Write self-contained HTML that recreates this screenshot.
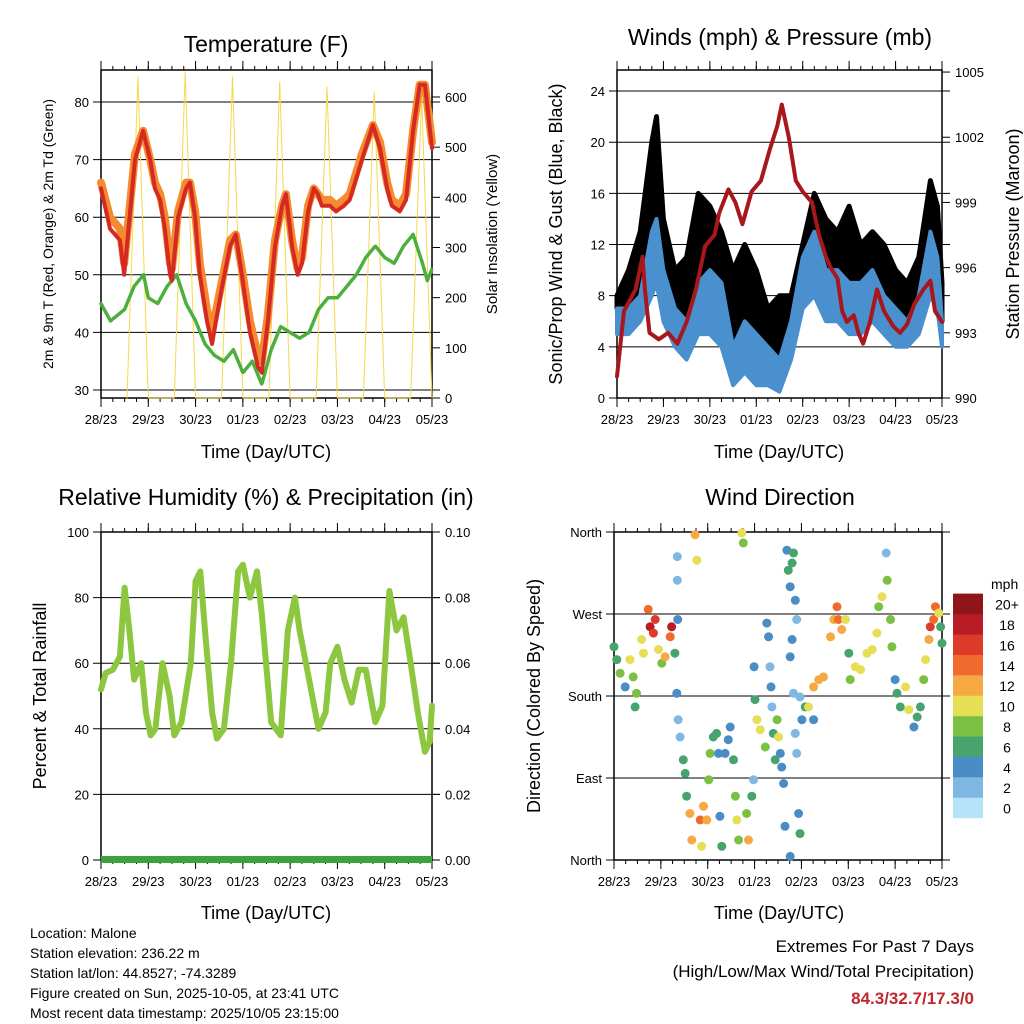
<!DOCTYPE html>
<html><head><meta charset="utf-8">
<style>
html,body{margin:0;padding:0;background:#fff;}
svg{display:block;font-family:"Liberation Sans",sans-serif;}
</style></head>
<body>
<svg id="fig" width="1024" height="1024" viewBox="0 0 1024 1024" xmlns="http://www.w3.org/2000/svg">
<rect x="0" y="0" width="1024" height="1024" fill="#fff"/>
<text x="266" y="52" font-size="23" text-anchor="middle">Temperature (F)</text>
<text x="780" y="45" font-size="23" text-anchor="middle">Winds (mph) &amp; Pressure (mb)</text>
<text x="266" y="505" font-size="23" text-anchor="middle">Relative Humidity (%) &amp; Precipitation (in)</text>
<text x="780" y="505" font-size="23" text-anchor="middle">Wind Direction</text>

<text transform="translate(53,234) rotate(-90)" font-size="14" text-anchor="middle">2m &amp; 9m T (Red, Orange) &amp; 2m Td (Green)</text>
<text transform="translate(497,234) rotate(-90)" font-size="15" text-anchor="middle">Solar Insolation (Yellow)</text>
<text transform="translate(562,234) rotate(-90)" font-size="18" text-anchor="middle">Sonic/Prop Wind &amp; Gust (Blue, Black)</text>
<text transform="translate(1019,234) rotate(-90)" font-size="18" text-anchor="middle">Station Pressure (Maroon)</text>
<text transform="translate(46,696) rotate(-90)" font-size="18" text-anchor="middle">Percent &amp; Total Rainfall</text>
<text transform="translate(540,696) rotate(-90)" font-size="18" text-anchor="middle">Direction (Colored By Speed)</text>

<text x="266" y="458" font-size="18" text-anchor="middle">Time (Day/UTC)</text>
<text x="779" y="458" font-size="18" text-anchor="middle">Time (Day/UTC)</text>
<text x="266" y="919" font-size="18" text-anchor="middle">Time (Day/UTC)</text>
<text x="779" y="919" font-size="18" text-anchor="middle">Time (Day/UTC)</text>

<g font-size="14">
<text x="30" y="938">Location: Malone</text>
<text x="30" y="958">Station elevation: 236.22 m</text>
<text x="30" y="978">Station lat/lon: 44.8527; -74.3289</text>
<text x="30" y="998">Figure created on Sun, 2025-10-05, at 23:41 UTC</text>
<text x="30" y="1018">Most recent data timestamp: 2025/10/05 23:15:00</text>
</g>
<g text-anchor="end">
<text x="974" y="952" font-size="17">Extremes For Past 7 Days</text>
<text x="974" y="977" font-size="17">(High/Low/Max Wind/Total Precipitation)</text>
<text x="974" y="1004" font-size="17" font-weight="bold" fill="#c0282d">84.3/32.7/17.3/0</text>
</g>
<g id="plots"></g>
</svg>
<script>
const dayLabels = ["28/23","29/23","30/23","01/23","02/23","03/23","04/23","05/23"];
// Temperature panel
const tTimes = [0,.19,.40,.49,.72,.89,1.04,1.14,1.25,1.35,1.46,1.50,1.63,1.80,1.88,1.99,2.09,2.24,2.35,2.39,2.56,2.73,2.85,2.98,3.15,3.32,3.40,3.53,3.68,3.83,3.91,4.04,4.16,4.25,4.38,4.50,4.59,4.67,4.84,4.97,5.14,5.26,5.52,5.75,5.90,6.05,6.15,6.32,6.45,6.60,6.74,6.85,7.0];
const temp2m = [65,58,56,50,70,75,70,65,63,58,50,49,60,65,66,60,50,42,38,40,48,55,57,50,40,34,33,42,55,62,64,55,50,52,61,65,64,62,62,61,62,63,70,76,72,65,62,61,63,75,83,83,72];
const temp9m = [66,60,58,52,71,75,70,66,64,60,52,51,61,66,66,61,52,44,40,42,49,56,57,51,42,36,35,43,56,62,64,56,51,53,62,65,64,63,63,62,63,64,71,76,73,66,63,62,64,75,83,83,73];
const tdTimes = [0,.2,.5,.7,.9,1.0,1.2,1.4,1.6,1.8,2.0,2.2,2.4,2.6,2.8,3.0,3.2,3.4,3.6,3.8,4.0,4.2,4.4,4.6,4.8,5.0,5.2,5.4,5.6,5.8,6.0,6.2,6.4,6.6,6.8,6.9,7.0];
const dewpoint = [45,42,44,48,50,46,45,48,50,45,42,38,36,35,37,33,35,31,37,41,40,39,40,44,46,46,48,50,53,55,53,52,55,57,52,49,51];
const solarTimes = [0.55,0.78,1.0,1.55,1.78,2.0,2.55,2.78,3.0,3.55,3.78,4.0,4.55,4.78,5.0,5.55,5.78,6.0,6.55,6.78,7.0];
const solarVals = [0,640,0,0,650,0,0,640,0,0,630,0,0,620,0,0,610,0,0,600,0];
const tempTicks = [30,40,50,60,70,80];
const solarTicks = [0,100,200,300,400,500,600];
// Wind panel
const wTimes = [0,.25,.5,.75,.85,1.0,1.25,1.5,1.75,2.0,2.25,2.5,2.75,3.0,3.25,3.5,3.75,4.0,4.25,4.5,4.75,5.0,5.25,5.5,5.75,6.0,6.25,6.5,6.75,6.9,7.0];
const gust = [8,10,13,20,22,14,10,11,16,15,13,10,12,10,7,8,8,12,16,14,13,15,12,13,12,10,9,11,17,15,9];
const wind = [7,7,8,13,14,10,7,6,9,10,9,4,6,5,4,3,6,11,13,10,10,9,9,10,8,7,6,8,13,11,6];
const windLow = [5,5,6,8,9,6,4,3,5,5,4,1,2,1,1,0.5,3,7,8,6,6,5,5,6,5,4,4,5,8,7,4];
const pTimes = [0,.15,.4,.55,.6,.7,.9,1.1,1.3,1.5,1.7,1.9,2.1,2.2,2.4,2.55,2.7,2.9,3.1,3.3,3.45,3.55,3.7,3.85,4.0,4.2,4.35,4.5,4.6,4.75,4.85,4.95,5.1,5.2,5.3,5.45,5.6,5.75,5.95,6.1,6.25,6.4,6.6,6.75,6.85,7.0];
const pressure = [991,994,995,996.5,995,993,992.7,993,992.5,993.5,995,997,997.5,998.5,999.6,999,998,999.5,1000,1001.5,1002.5,1003.5,1002,1000,999.5,999,997.5,996.5,996,995.5,994,993.5,993.8,993,992.5,993.5,995,994,993.3,993,993.4,994.3,995,995.4,994,993.5];
const windTicks = [0,4,8,12,16,20,24];
const pressTicks = [990,993,996,999,1002,1005];
// RH panel
const rhTimes = [0,.1,.25,.4,.5,.6,.7,.85,.95,1.05,1.15,1.3,1.45,1.55,1.7,1.9,2.0,2.1,2.2,2.35,2.45,2.6,2.75,2.9,3.0,3.15,3.3,3.4,3.6,3.8,3.95,4.1,4.2,4.4,4.6,4.75,4.85,5.0,5.15,5.3,5.45,5.6,5.8,5.95,6.1,6.25,6.4,6.55,6.7,6.85,6.95,7.0];
const rh = [52,57,58,62,83,70,55,60,45,38,40,60,50,38,42,60,85,88,70,45,37,40,60,88,90,80,88,75,42,38,70,80,70,55,40,45,60,65,55,48,58,58,42,47,82,70,74,60,45,33,36,47];
const rhTicks = [0,20,40,60,80,100];
const precipTicks = ["0.00","0.02","0.04","0.06","0.08","0.10"];
// Wind direction panel
const dirTimes = [0,.06,.13,.24,.34,.41,.45,.48,.59,.63,.73,.77,.84,.88,.95,1.02,1.09,1.20,1.23,1.30,1.35,1.35,1.36,1.34,1.37,1.41,1.48,1.52,1.55,1.62,1.66,1.73,1.77,1.84,1.87,1.91,1.98,2.02,2.05,2.12,2.19,2.23,2.26,2.30,2.37,2.44,2.48,2.55,2.59,2.62,2.66,2.73,2.76,2.83,2.87,2.94,2.98,2.99,3.01,3.05,3.12,3.23,3.26,3.30,3.33,3.35,3.37,3.40,3.44,3.48,3.51,3.55,3.58,3.62,3.65,3.69,3.72,3.76,3.80,3.83,3.87,3.90,3.80,3.76,3.83,3.87,3.90,3.94,3.97,3.76,3.97,4.01,4.08,4.15,4.26,4.26,4.37,4.47,4.62,4.69,4.76,4.79,4.86,4.94,5.01,5.04,5.15,5.26,5.40,5.51,5.61,5.65,5.72,5.83,5.81,5.90,5.93,6.00,6.04,6.11,6.22,6.29,6.40,6.47,6.54,6.61,6.65,6.72,6.75,6.82,6.86,6.93,6.97,7.00];
const dirDeg = [234,220,205,190,220,201,168,183,242,227,275,256,249,264,231,216,223,245,256,227,333,307,264,183,154,135,110,95,70,51,22,357,329,44,15,59,44,88,117,135,139,117,48,15,117,132,146,110,70,44,22,359,348,51,22,70,88,212,176,154,143,124,260,245,212,190,168,139,110,154,135,117,102,84,37,340,318,300,326,337,285,264,242,223,183,139,117,51,29,4,179,154,168,168,154,190,198,201,245,264,278,264,253,264,227,198,212,209,227,231,249,278,289,307,337,264,234,198,183,168,190,165,146,157,168,198,220,242,256,264,278,271,256,238];
const dirSpeed = [6,6,8,4,10,8,6,8,10,10,14,18,16,16,10,8,12,14,18,6,2,2,4,4,2,2,6,6,6,12,12,12,10,14,10,12,12,8,8,6,6,4,4,6,4,4,4,6,8,10,8,10,8,8,12,6,2,4,6,10,10,8,4,4,2,4,2,6,6,8,10,4,4,4,4,4,6,4,6,6,4,2,4,4,2,2,2,4,6,4,2,4,6,10,4,12,12,12,12,12,14,14,12,10,6,8,10,10,10,10,10,8,10,8,2,8,8,4,6,6,10,10,4,6,6,8,10,12,16,14,14,10,6,6];
const dirTicks = ["North","East","South","West","North"];
const cbLabels = ["0","2","4","6","8","10","12","14","16","18","20+"];
const cbColors = ["#b6e3f8","#7fb9e3","#4a8cc6","#48a46e","#7bc043","#e6de54","#f6a843","#ef6a2c","#dd3a2a","#b91c24","#8e1519"];

const NS="http://www.w3.org/2000/svg";
const root=document.getElementById('plots');
function mk(tag,attrs,parent){const e=document.createElementNS(NS,tag);for(const k in attrs)e.setAttribute(k,attrs[k]);(parent||root).appendChild(e);return e;}
function txt(s,x,y,size,anchor,parent){const t=mk('text',{x:x,y:y,'font-size':size,'text-anchor':anchor||'middle'},parent);t.textContent=s;return t;}

function panel(name,x0,x1,y0,y1){
  const g=mk('g',{});
  
  
  return {g,x0,x1,y0,y1,xs:d=>x0+d*(x1-x0)/7};
}
function frame(P,yTicks,ys,labelFn,rightTicks,ys2,rightFn){
  const g=mk('g',{},P.g);
  
  
  yTicks.forEach(v=>{const y=ys(v);mk('line',{x1:P.x0-8,x2:P.x1+8,y1:y,y2:y,stroke:'#000','stroke-width':1},g);
    txt(labelFn(v),P.x0-12,y+5,13,'end',g);});
  if(rightTicks) rightTicks.forEach(v=>{const y=ys2(v);mk('line',{x1:P.x1,x2:P.x1+8,y1:y,y2:y,stroke:'#000'},g);
    txt(rightFn(v),P.x1+13,y+5,13,'start',g);});
  for(let d=0;d<=7;d++){const x=P.xs(d);
    mk('line',{x1:x,x2:x,y1:P.y1,y2:P.y1+9,stroke:'#000'},g);
    mk('line',{x1:x,x2:x,y1:P.y0,y2:P.y0-9,stroke:'#000'},g);
    txt(dayLabels[d],x,P.y1+26,13,'middle',g);}
  for(let h=0;h<28;h++){const x=P.xs(h/4);
    mk('line',{x1:x,x2:x,y1:P.y1,y2:P.y1+4,stroke:'#000'},g);
    mk('line',{x1:x,x2:x,y1:P.y0,y2:P.y0-4,stroke:'#000'},g);}
  mk('rect',{x:P.x0,y:P.y0,width:P.x1-P.x0,height:P.y1-P.y0,fill:'none',stroke:'#000','stroke-width':1.5},g);
}
function path(P,name,xsArr,ysArr,xf,yf,attrs){
  let d='';xsArr.forEach((t,i)=>{d+=(i?'L':'M')+xf(t).toFixed(1)+','+yf(ysArr[i]).toFixed(1);});
  const p=mk('path',Object.assign({d:d,fill:'none','stroke-linejoin':'round','stroke-linecap':'round'},attrs),P.g);
  
  
  return p;
}
function band(P,name,tArr,lo,hi,yf,attrs){
  let d='';tArr.forEach((t,i)=>{d+=(i?'L':'M')+P.xs(t).toFixed(1)+','+yf(hi[i]).toFixed(1);});
  for(let i=tArr.length-1;i>=0;i--){d+='L'+P.xs(tArr[i]).toFixed(1)+','+yf(lo[i]).toFixed(1);}
  const p=mk('path',Object.assign({d:d+'Z','stroke-linejoin':'round'},attrs),P.g);
  
  
  return p;
}

// ---- Panel 1: temperature
(function(){
  const P=panel('temperature-plot',101,432,70,398);
  const ys=v=>390-(v-30)*5.76, ys2=v=>398-v*0.5017;
  frame(P,tempTicks,ys,v=>String(v),solarTicks,ys2,v=>String(v));
  path(P,'solar-insolation-line',solarTimes,solarVals,P.xs,ys2,{stroke:'#f5d94a','stroke-width':1});
  path(P,'dewpoint-line',tdTimes,dewpoint,P.xs,ys,{stroke:'#4caf3c','stroke-width':3.5,'stroke-dasharray':'3 1.5'});
  path(P,'temp-9m-line',tTimes,temp9m,P.xs,ys,{stroke:'#f58a2e','stroke-width':8});
  path(P,'temp-2m-line',tTimes,temp2m,P.xs,ys,{stroke:'#d42a22','stroke-width':4});
})();

// ---- Panel 2: winds
(function(){
  const P=panel('winds-plot',617,942,70,398);
  const ys=v=>398-v*12.79, ys2=v=>398-(v-990)*21.73;
  frame(P,windTicks,ys,v=>String(v),pressTicks,ys2,v=>String(v));
  band(P,'gust-band',wTimes,wind,gust,ys,{fill:'#000',stroke:'#000','stroke-width':5});
  band(P,'wind-speed-band',wTimes,windLow,wind,ys,{fill:'#4a90cf',stroke:'#4a90cf','stroke-width':4});
  path(P,'pressure-line',pTimes,pressure,P.xs,ys2,{stroke:'#a8171b','stroke-width':4});
})();

// ---- Panel 3: RH
(function(){
  const P=panel('humidity-plot',101,432,532,860);
  const ys=v=>860-v*3.28;
  frame(P,rhTicks,ys,v=>String(v),rhTicks,ys,(v)=>precipTicks[rhTicks.indexOf(v)]);
  path(P,'relative-humidity-line',rhTimes,rh,P.xs,ys,{stroke:'#8dc63f','stroke-width':6});
  const pr=mk('rect',{x:P.x0,y:856,width:P.x1-P.x0,height:7,fill:'#3da23d'},P.g);
  
  
})();

// ---- Panel 4: wind direction
(function(){
  const P=panel('wind-direction-plot',614,942,532,860);
  const ys=v=>860-v*0.9111;
  const vals=[0,90,180,270,360];
  frame(P,vals,ys,v=>dirTicks[vals.indexOf(v)]);
  const cidx=s=>Math.min(10,Math.max(0,Math.round(s/2)));
  dirTimes.forEach((t,i)=>{
    const c=mk('circle',{cx:P.xs(t).toFixed(1),cy:ys(dirDeg[i]).toFixed(1),r:4.5,fill:cbColors[cidx(dirSpeed[i])]},P.g);
    
    
  });
  const cb=mk('g',{});
  
  
  txt('mph',991,589,14,'start',cb);
  cbLabels.forEach((l,i)=>{
    const y=818-(i+1)*20.4;
    mk('rect',{x:953,y:y,width:30,height:20.6,fill:cbColors[i]},cb);
    txt(l,1007,y+16,14,'middle',cb);
  });
})();
</script>
</body></html>
